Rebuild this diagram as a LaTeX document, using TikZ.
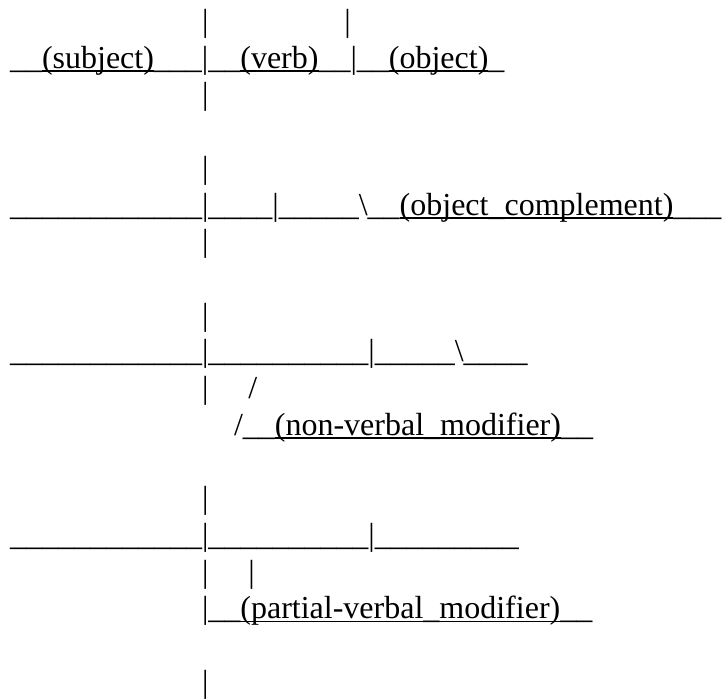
\documentclass[tikz,border=0pt]{standalone}
\usepackage{fontspec}
\setmainfont{Liberation Serif}[Ligatures=CommonOff]

% a run of n underscore characters
\newcount\ucnt
\newcommand\unders[1]{\ucnt=#1\relax\loop\ifnum\ucnt>0 \_\advance\ucnt-1\relax\repeat}
% a label with an underline level with the underscores
\newsavebox\lblbox
\newcommand\lbl[1]{\sbox\lblbox{#1}\rlap{\rule[-0.118em]{\wd\lblbox}{0.058em}}\usebox\lblbox}
% leading blanks, n spaces of 0.25em each
\newcommand\blanks[1]{\hspace*{#1\dimexpr0.25em\relax}}

\tikzset{
  row/.style={anchor=base west, inner sep=0pt, outer sep=0pt,
    font=\fontsize{32}{36.7}\selectfont}
}

\begin{document}
\begin{tikzpicture}[x=1pt,y=1pt]
  \useasboundingbox (0,0) rectangle (727,-698);
  \fill[white] (0,0) rectangle (727,-698);

  % baselines: 31.5 + 36.7 k
  \node[row] (r0)  at (10,-31.5)  {\blanks{24}|\blanks{17}|};
  \node[row] (r1)  at (10,-68.2)  {\unders{2}\lbl{(subject)}\unders{3}|\unders{2}\lbl{(verb)}\unders{2}|\unders{2}\lbl{(object)}\unders{1}};
  \node[row] (r2)  at (10,-104.9) {\blanks{24}|};

  \node[row] (r4)  at (10,-178.3) {\blanks{24}|};
  \node[row] (r5)  at (10,-215.0) {\unders{12}|\unders{4}|\unders{5}\textbackslash\unders{2}\lbl{(object\_complement)}\unders{3}};
  \node[row] (r6)  at (10,-251.7) {\blanks{24}|};

  \node[row] (r8)  at (10,-325.1) {\blanks{24}|};
  \node[row] (r9)  at (10,-361.8) {\unders{12}|\unders{10}|\unders{5}\textbackslash\unders{4}};
  \node[row] (r10) at (10,-398.5) {\blanks{24}|\blanks{5}/};
  \node[row] (r11) at (10,-435.2) {\blanks{28}/\unders{2}\lbl{(non-verbal\_modifier)}\unders{2}};

  \node[row] (r13) at (10,-508.6) {\blanks{24}|};
  \node[row] (r14) at (10,-545.3) {\unders{12}|\unders{10}|\unders{9}};
  \node[row] (r15) at (10,-582.0) {\blanks{24}|\blanks{5}|};
  \node[row] (r16) at (10,-618.7) {\blanks{24}|\unders{2}\lbl{(partial-verbal\_modifier)}\unders{2}};

  \node[row] (r18) at (10,-692.1) {\blanks{24}|};
\end{tikzpicture}
\end{document}
